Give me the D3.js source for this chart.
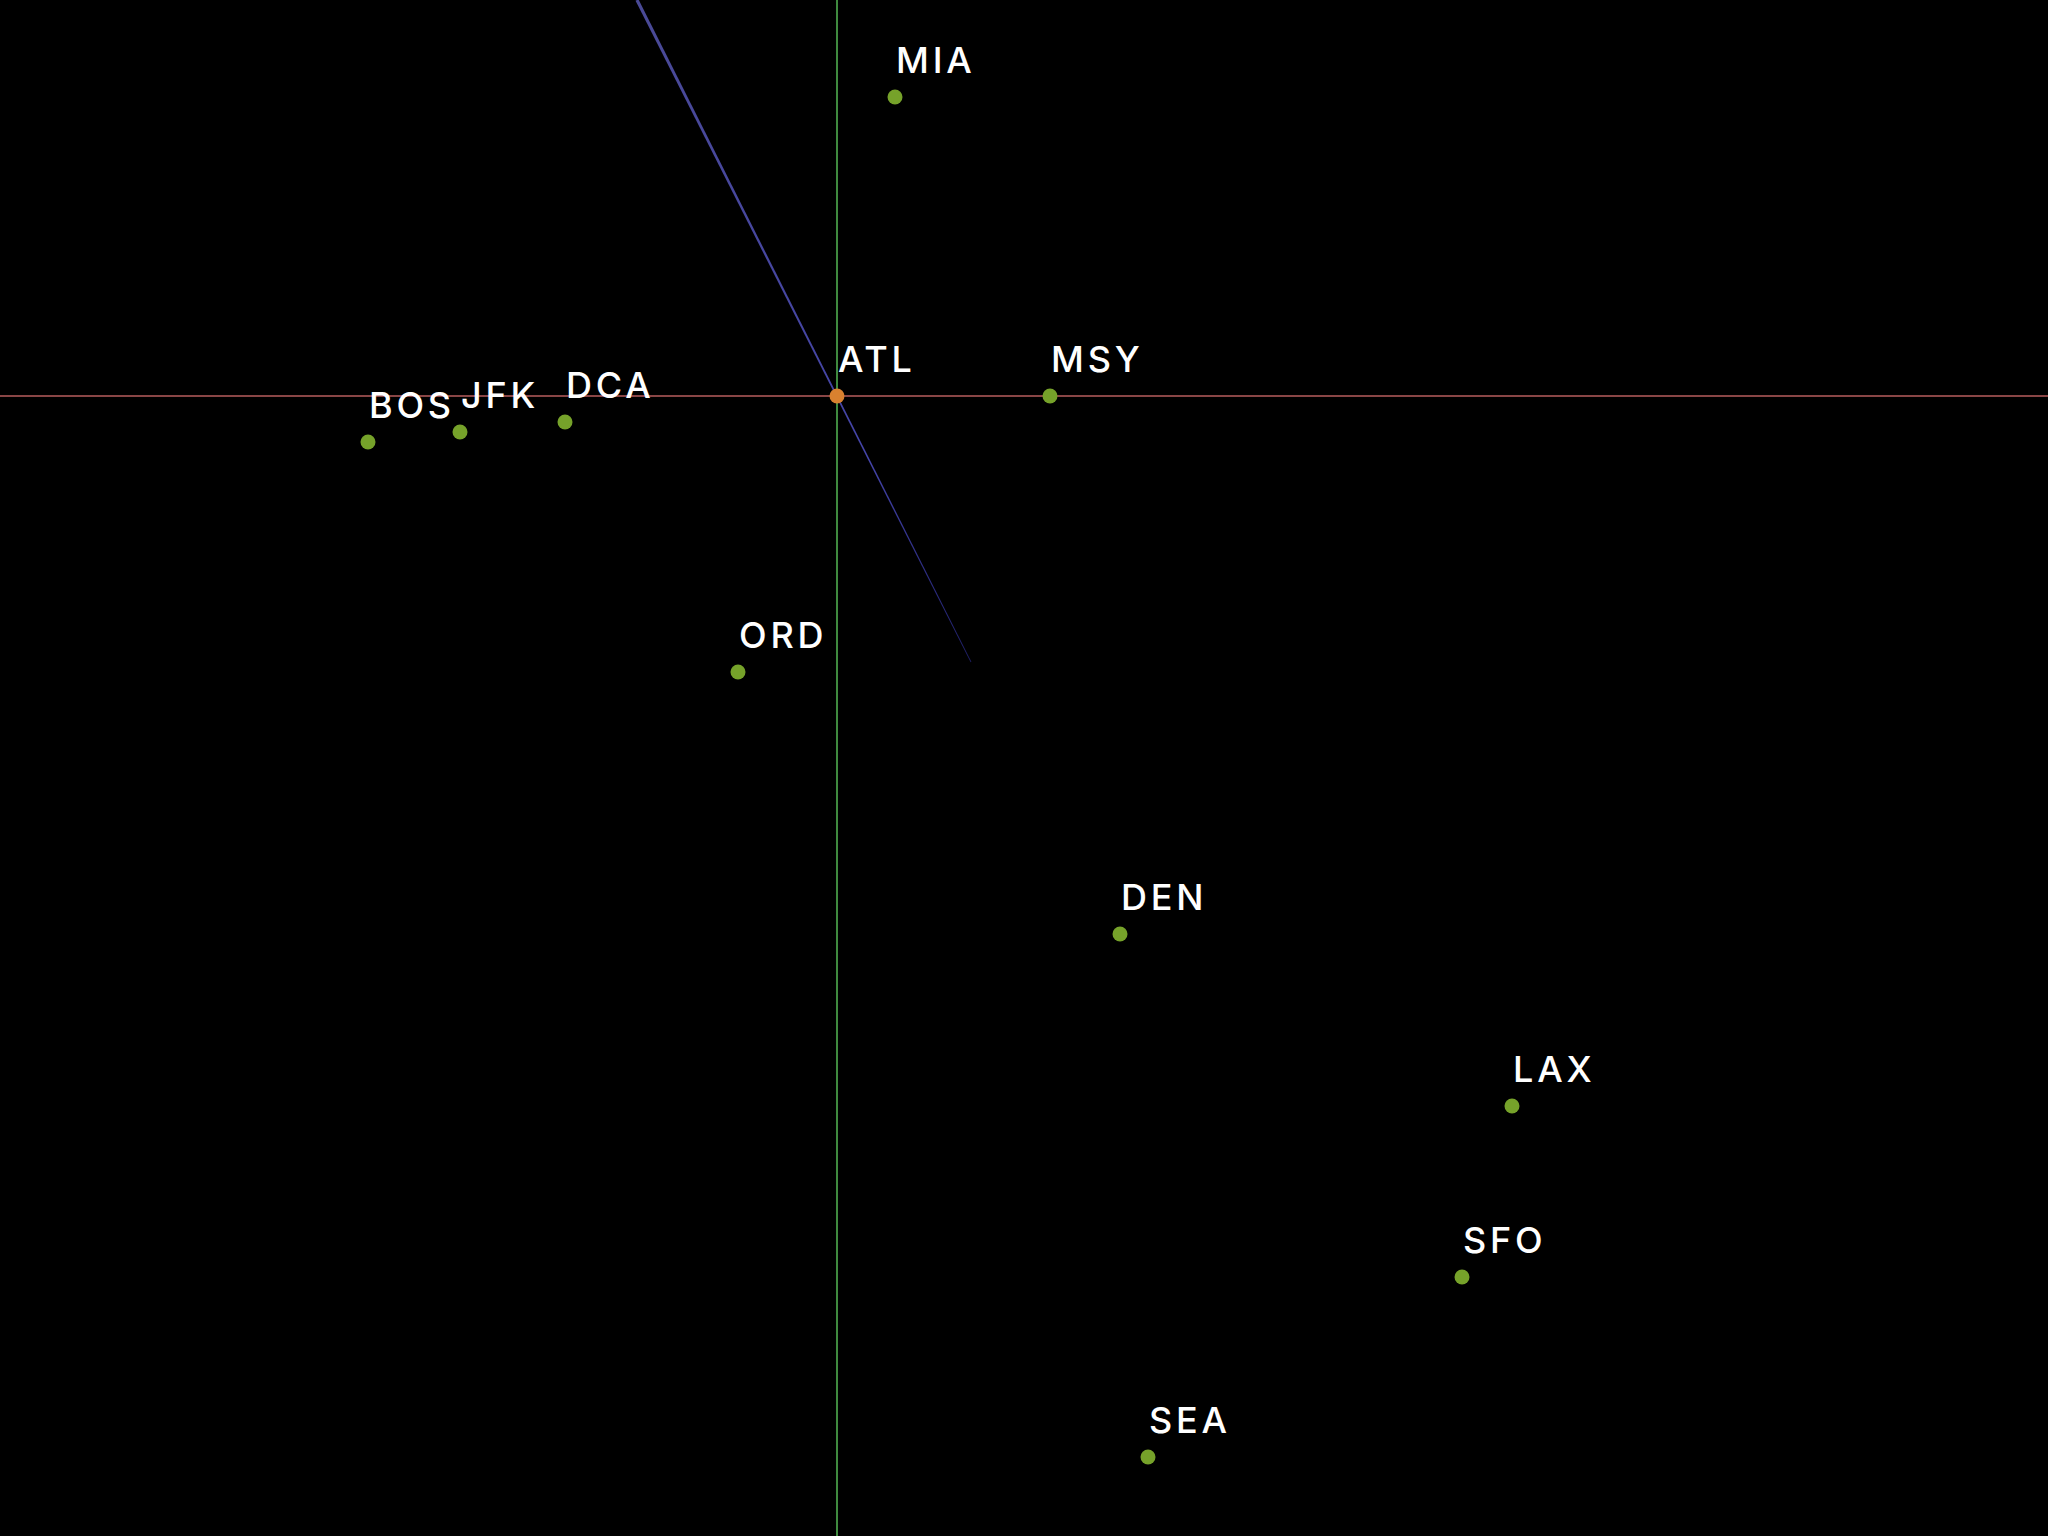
<!DOCTYPE html>
<html>
<head>
<meta charset="utf-8">
<script src="https://cdn.jsdelivr.net/npm/d3@7"></script>
<style>
html, body { margin: 0; padding: 0; background: #000; }
svg { display: block; }
</style>
</head>
<body>
<svg id="chart" width="2048" height="1536"></svg>
<script>
// Airport codes (ATL is the origin / reference airport)
const airports = ["ATL", "MIA", "MSY", "DCA", "JFK", "BOS", "ORD", "DEN", "LAX", "SFO", "SEA"];
// Projected horizontal coordinate relative to ATL
const xValues = [0, 58, 213, -272, -377, -469, -99, 283, 675, 625, 311];
// Projected vertical coordinate relative to ATL (up is positive)
const yValues = [0, 299, 0, -26, -36, -46, -276, -538, -710, -881, -1061];
// Third (depth) axis drawn in projection: start and end points
const depthAxisX = [-200, 134];
const depthAxisY = [396, -266];

const W = 2048, H = 1536;
const svg = d3.select("#chart");
svg.append("rect").attr("width", W).attr("height", H).attr("fill", "#000");

const x = d3.scaleLinear().domain([-837, 1211]).range([0, W]);
const y = d3.scaleLinear().domain([396, -1140]).range([0, H]);

// gradient for the depth axis
const defs = svg.append("defs");
const grad = defs.append("linearGradient")
  .attr("id", "zgrad")
  .attr("gradientUnits", "userSpaceOnUse")
  .attr("x1", x(depthAxisX[0])).attr("y1", y(depthAxisY[0]))
  .attr("x2", x(depthAxisX[1])).attr("y2", y(depthAxisY[1]));
grad.append("stop").attr("offset", "0%").attr("stop-color", "#4a4a96");
grad.append("stop").attr("offset", "70%").attr("stop-color", "#4444a8");
grad.append("stop").attr("offset", "100%").attr("stop-color", "#3333aa").attr("stop-opacity", 0.6);

// horizontal axis (red)
svg.append("line")
  .attr("x1", 0).attr("x2", W)
  .attr("y1", y(0)).attr("y2", y(0))
  .attr("stroke", "#8a4646").attr("stroke-width", 2);

// vertical axis (green)
svg.append("line")
  .attr("x1", x(0)).attr("x2", x(0))
  .attr("y1", 0).attr("y2", H)
  .attr("stroke", "#3f8a3f").attr("stroke-width", 2);

// depth axis (blue), tapered
const x0 = x(depthAxisX[0]), y0 = y(depthAxisY[0]);
const x1 = x(depthAxisX[1]), y1 = y(depthAxisY[1]);
const len = Math.hypot(x1 - x0, y1 - y0);
const nx = -(y1 - y0) / len, ny = (x1 - x0) / len;
const w0 = 1.6, w1 = 0.4;
svg.append("path")
  .attr("d", `M${x0 + nx * w0},${y0 + ny * w0} L${x1 + nx * w1},${y1 + ny * w1} L${x1 - nx * w1},${y1 - ny * w1} L${x0 - nx * w0},${y0 - ny * w0} Z`)
  .attr("fill", "url(#zgrad)");

const data = airports.map((a, i) => ({ code: a, x: xValues[i], y: yValues[i] }));

svg.append("g").selectAll("circle")
  .data(data)
  .join("circle")
  .attr("cx", d => x(d.x))
  .attr("cy", d => y(d.y))
  .attr("r", 7.5)
  .attr("fill", d => d.code === "ATL" ? "#d9812f" : "#76a22a");

svg.append("g").selectAll("text")
  .data(data)
  .join("text")
  .attr("x", d => x(d.x) + 1)
  .attr("y", d => y(d.y) - 24)
  .attr("fill", "#fff")
  .attr("font-family", "Inter, 'Noto Sans', sans-serif")
  .attr("font-size", 36)
  .attr("font-weight", 500)
  .attr("letter-spacing", "3.8px")
  .text(d => d.code);
</script>
</body>
</html>
